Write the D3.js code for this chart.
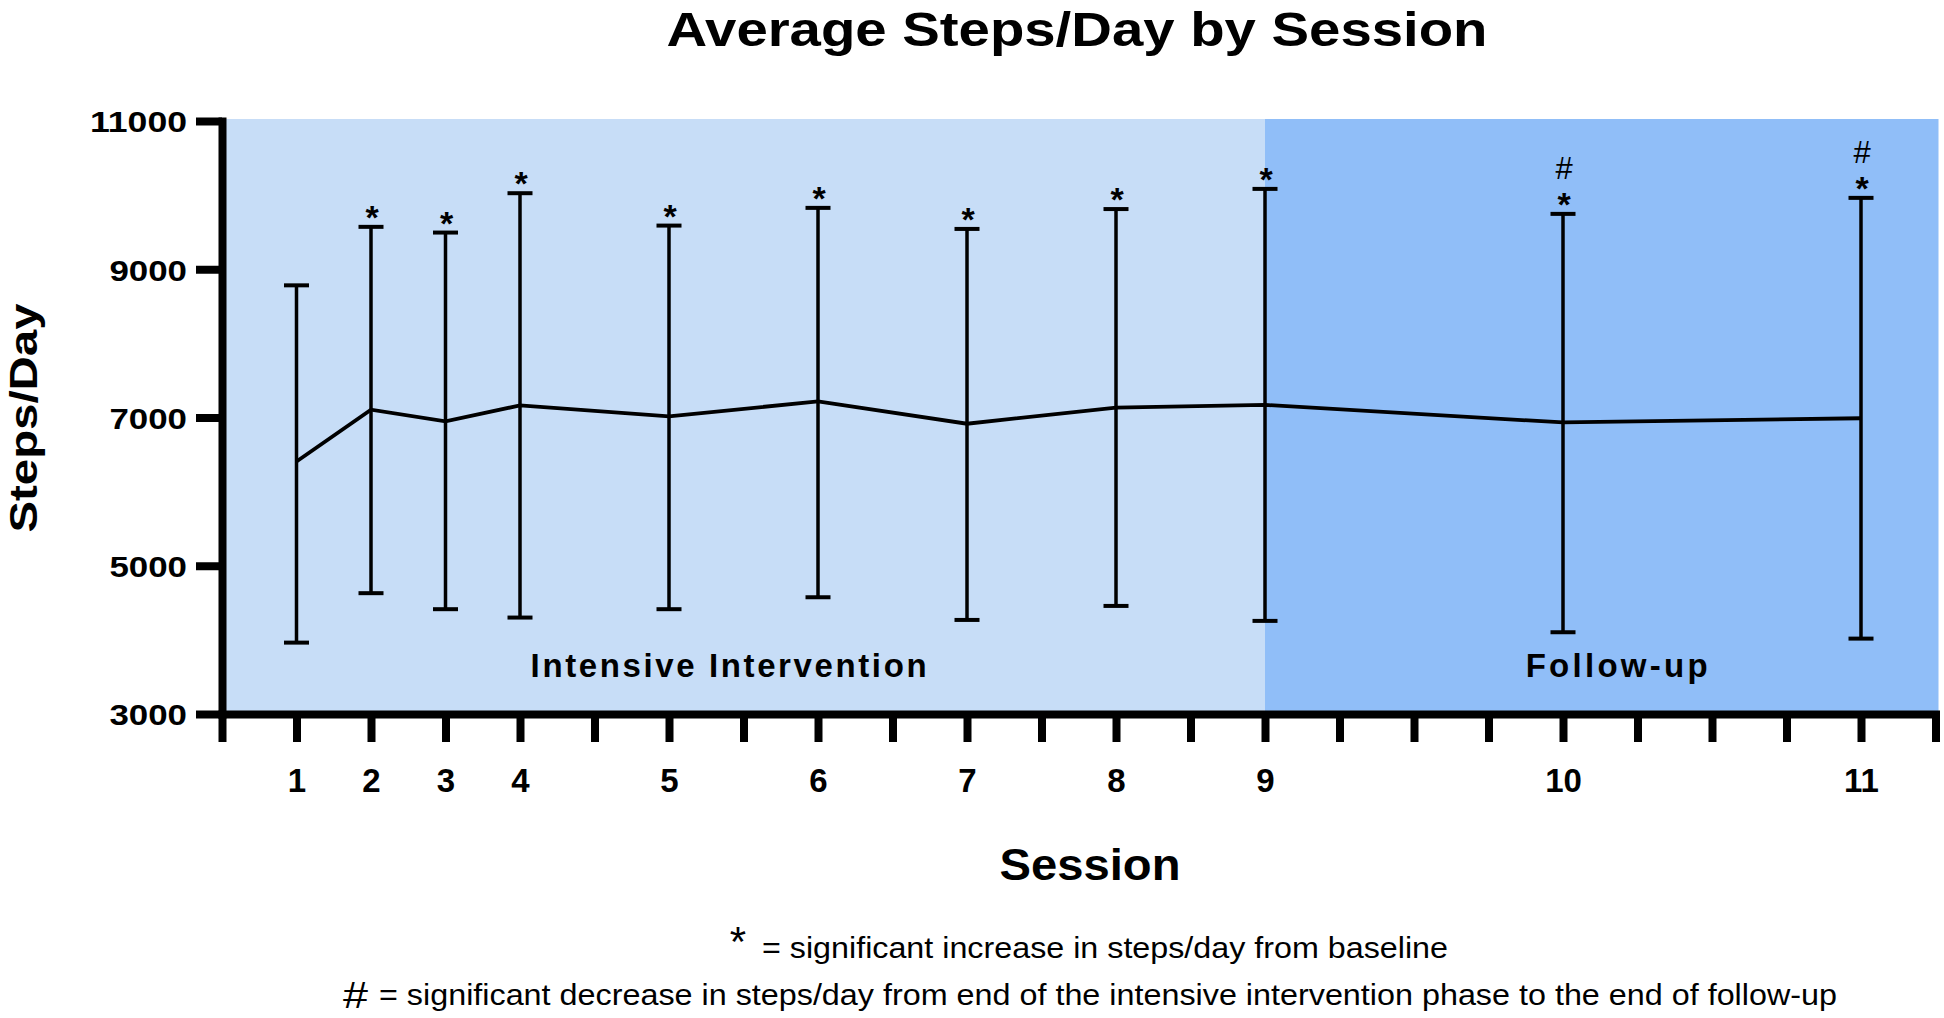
<!DOCTYPE html>
<html>
<head>
<meta charset="utf-8">
<script src="https://cdn.jsdelivr.net/npm/d3@7"></script>
<style>
  html, body { margin: 0; padding: 0; background: #ffffff; }
  svg { display: block; }
  text { font-family: "Liberation Sans", Arial, Helvetica, sans-serif; fill: #000; }
</style>
</head>
<body>
<script>
// ---------------- DATA ----------------
const sessionLabels = ["1", "2", "3", "4", "5", "6", "7", "8", "9", "10", "11"];
const sessionWeeks  = [1, 2, 3, 4, 6, 8, 10, 12, 14, 18, 22];
const meanSteps     = [6407, 7105, 6947, 7163, 7015, 7218, 6916, 7134, 7170, 6933, 6990];
const upperSteps    = [8783, 9572, 9495, 10026, 9589, 9828, 9544, 9812, 10084, 9747, 9963];
const lowerSteps    = [3963, 4630, 4414, 4301, 4414, 4575, 4269, 4458, 4256, 4103, 4017];
const starMarks     = [false, true, true, true, true, true, true, true, true, true, true];
const hashMarks     = [false, false, false, false, false, false, false, false, false, true, true];
const yTickValues   = [3000, 5000, 7000, 9000, 11000];
const xTickValues   = d3.range(0, 24);
const phaseNames    = ["Intensive Intervention", "Follow-up"];
const phaseStart    = [0, 14];
const phaseEnd      = [14, 23];
const phaseColors   = ["#c7ddf7", "#90bef8"];

const titleText  = "Average Steps/Day by Session";
const xTitleText = "Session";
const yTitleText = "Steps/Day";
const note1Text  = "= significant increase in steps/day from baseline";
const note2Text  = "= significant decrease in steps/day from end of the intensive intervention phase to the end of follow-up";

// ---------------- LAYOUT ----------------
const W = 1944, H = 1018;
const svg = d3.select("body").append("svg").attr("width", W).attr("height", H);

const x = d3.scaleLinear().domain([0, 23]).range([222, 1935.5]);
const y = d3.scaleLinear().domain([3000, 11000]).range([714, 121]);

// phase backgrounds
svg.append("g").selectAll("rect").data(phaseNames).join("rect")
  .attr("x", (d, i) => x(phaseStart[i]))
  .attr("y", y(11000) - 2)
  .attr("width", (d, i) => x(phaseEnd[i]) - x(phaseStart[i]) + (i === 1 ? 3 : 0))
  .attr("height", y(3000) - y(11000) + 2)
  .attr("fill", (d, i) => phaseColors[i]);

// phase labels
const phaseLabelCenters = [6.8, 18.72];
const phaseLabelLengths = [396, 182];
svg.append("g").selectAll("text").data(phaseNames).join("text")
  .attr("x", (d, i) => x(phaseLabelCenters[i]))
  .attr("y", 677)
  .attr("text-anchor", "middle")
  .attr("font-size", 33)
  .attr("font-weight", "bold")
  .attr("textLength", (d, i) => phaseLabelLengths[i])
  .attr("lengthAdjust", "spacing")
  .text(d => d);

// Y axis
const yAxis = d3.axisLeft(y).tickValues(yTickValues).tickFormat(d3.format("d"))
  .tickSize(26).tickSizeOuter(0).tickPadding(9);
const gy = svg.append("g").attr("transform", `translate(${x(0)},0)`).call(yAxis);
gy.select(".domain").attr("stroke", "#000").attr("stroke-width", 8).attr("stroke-linecap", "square");
gy.selectAll(".tick line").attr("stroke", "#000").attr("stroke-width", 8);
gy.selectAll(".tick text")
  .attr("font-family", "'Liberation Sans', Arial, sans-serif")
  .attr("font-size", 30).attr("font-weight", "bold")
  .attr("textLength", d => String(d).length * 19.4)
  .attr("lengthAdjust", "spacingAndGlyphs")
  .attr("dy", "0.36em");

// X axis
const weekToLabel = new Map(sessionWeeks.map((w, i) => [w, sessionLabels[i]]));
const xAxis = d3.axisBottom(x).tickValues(xTickValues).tickSize(28).tickSizeOuter(0)
  .tickFormat(d => weekToLabel.get(d) || "").tickPadding(27);
const gx = svg.append("g").attr("transform", `translate(0,${y(3000)})`).call(xAxis);
gx.select(".domain").attr("stroke", "#000").attr("stroke-width", 8).attr("stroke-linecap", "square");
gx.selectAll(".tick line").attr("stroke", "#000").attr("stroke-width", 8);
gx.selectAll(".tick text")
  .attr("font-family", "'Liberation Sans', Arial, sans-serif")
  .attr("font-size", 33).attr("font-weight", "bold");

// error bars
const capHalf = 12.5;
const bars = svg.append("g");
sessionWeeks.forEach((w, i) => {
  const cx = x(w);
  bars.append("line").attr("x1", cx).attr("x2", cx)
    .attr("y1", y(upperSteps[i])).attr("y2", y(lowerSteps[i]))
    .attr("stroke", "#000").attr("stroke-width", 3.5);
  [upperSteps[i], lowerSteps[i]].forEach(v => {
    bars.append("line").attr("x1", cx - capHalf).attr("x2", cx + capHalf)
      .attr("y1", y(v)).attr("y2", y(v))
      .attr("stroke", "#000").attr("stroke-width", 4);
  });
});

// mean line
const line = d3.line().x((d, i) => x(sessionWeeks[i])).y(d => y(d));
svg.append("path").datum(meanSteps).attr("d", line)
  .attr("fill", "none").attr("stroke", "#000").attr("stroke-width", 3.8)
  .attr("stroke-linejoin", "miter");

// significance markers
const marks = svg.append("g");
sessionWeeks.forEach((w, i) => {
  const cx = x(w);
  const cy = y(upperSteps[i]);
  if (starMarks[i]) {
    marks.append("text").attr("x", cx + 1).attr("y", cy + 2)
      .attr("text-anchor", "middle").attr("font-size", 34).attr("font-weight", "bold").text("*");
  }
  if (hashMarks[i]) {
    marks.append("text").attr("x", cx + 1).attr("y", cy - 35)
      .attr("text-anchor", "middle").attr("font-size", 31).text("#");
  }
});

// titles
svg.append("text").attr("x", 1077).attr("y", 46).attr("text-anchor", "middle")
  .attr("font-size", 49).attr("font-weight", "bold")
  .attr("textLength", 821).attr("lengthAdjust", "spacingAndGlyphs")
  .text(titleText);

svg.append("text").attr("x", 1090).attr("y", 880).attr("text-anchor", "middle")
  .attr("font-size", 44).attr("font-weight", "bold")
  .attr("textLength", 181).attr("lengthAdjust", "spacingAndGlyphs")
  .text(xTitleText);

svg.append("text").attr("transform", "translate(37,418) rotate(-90)")
  .attr("text-anchor", "middle")
  .attr("font-size", 39).attr("font-weight", "bold")
  .attr("textLength", 229).attr("lengthAdjust", "spacingAndGlyphs")
  .text(yTitleText);

// footnotes
svg.append("text").attr("x", 738).attr("y", 956).attr("text-anchor", "middle")
  .attr("font-size", 42).text("*");
svg.append("text").attr("x", 762).attr("y", 958)
  .attr("font-size", 29)
  .attr("textLength", 686).attr("lengthAdjust", "spacingAndGlyphs")
  .text(note1Text);

svg.append("text").attr("x", 343).attr("y", 1008)
  .attr("font-size", 36)
  .attr("textLength", 25).attr("lengthAdjust", "spacingAndGlyphs")
  .text("#");
svg.append("text").attr("x", 379).attr("y", 1005)
  .attr("font-size", 29)
  .attr("textLength", 1458).attr("lengthAdjust", "spacingAndGlyphs")
  .text(note2Text);
</script>
</body>
</html>
